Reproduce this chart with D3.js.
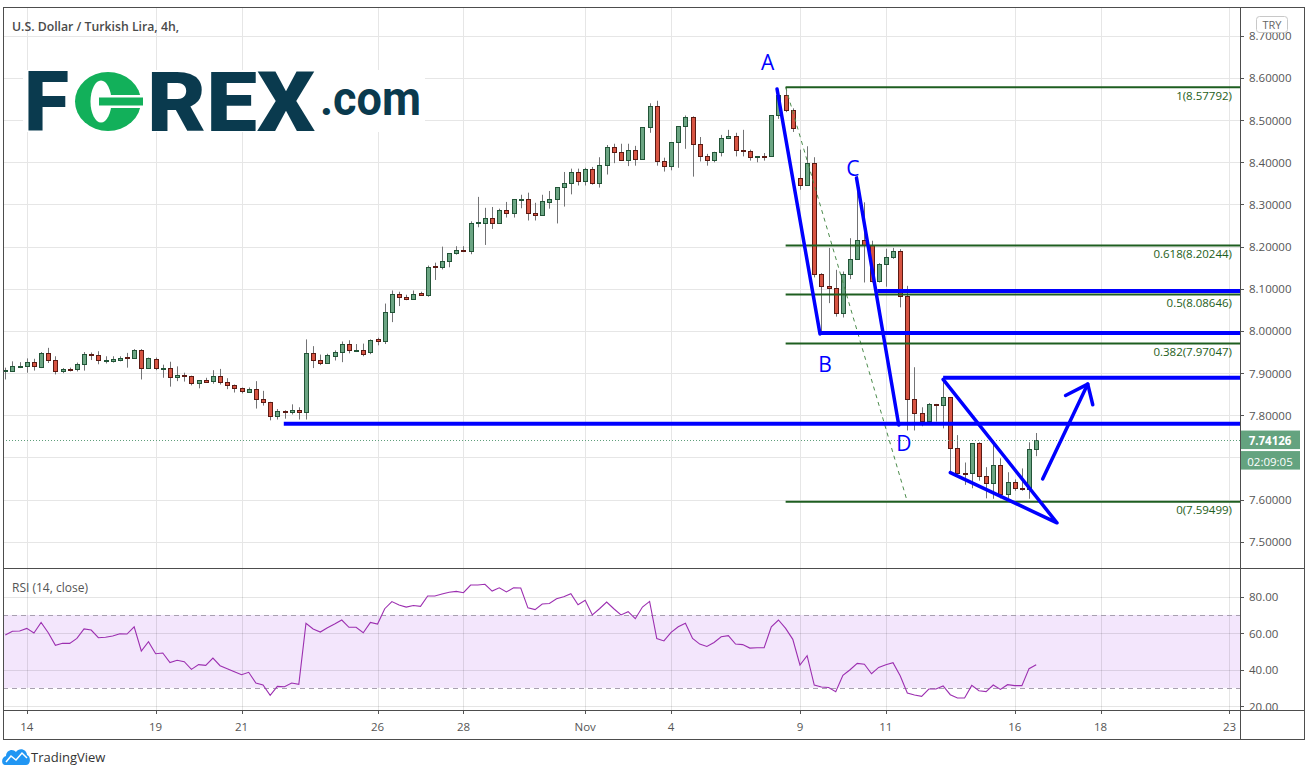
<!DOCTYPE html>
<html><head><meta charset="utf-8">
<script src="https://cdn.jsdelivr.net/npm/d3@7"></script>
<style>body{margin:0;background:#fff;}svg{display:block;}</style>
</head><body>
<svg id="c" width="1311" height="776"></svg>
<script>
// ---------- DATA (4h candles, USD/TRY, Oct 13 12:00 -> Nov 16 12:00) ----------
const opens = [7.904,7.906,7.915,7.916,7.926,7.914,7.947,7.930,7.904,7.910,7.909,7.921,7.946,7.942,7.930,7.929,7.932,7.938,7.936,7.954,
7.913,7.933,7.912,7.912,7.890,7.896,7.893,7.876,7.884,7.881,7.893,7.879,7.871,7.864,7.856,7.862,7.839,7.831,7.798,7.811,
7.808,7.812,7.808,7.947,7.932,7.925,7.941,7.950,7.970,7.955,7.956,7.950,7.980,7.976,8.046,8.088,8.081,8.076,8.089,8.085,
8.153,8.151,8.167,8.184,8.193,8.189,8.257,8.257,8.268,8.257,8.286,8.279,8.312,8.313,8.279,8.274,8.307,8.312,8.341,8.351,
8.377,8.355,8.384,8.352,8.393,8.436,8.424,8.405,8.429,8.409,8.483,8.533,8.403,8.391,8.448,8.486,8.507,8.443,8.415,8.405,
8.424,8.457,8.462,8.430,8.426,8.412,8.415,8.414,8.511,8.560,8.525,8.363,8.347,8.398,8.134,8.107,8.102,8.042,8.135,8.171,
8.216,8.204,8.119,8.159,8.175,8.189,8.082,7.838,7.805,7.786,7.827,7.824,7.843,7.722,7.663,7.663,7.734,7.655,7.639,7.681,
7.613,7.641,7.628,7.625,7.719];
const highs = [7.913,7.928,7.926,7.935,7.934,7.950,7.960,7.940,7.912,7.913,7.925,7.950,7.949,7.952,7.940,7.940,7.940,7.948,7.957,7.957,
7.937,7.937,7.920,7.927,7.916,7.901,7.894,7.883,7.889,7.907,7.910,7.888,7.873,7.866,7.866,7.881,7.858,7.832,7.815,7.812,
7.826,7.819,7.980,7.964,7.944,7.946,7.954,7.975,7.978,7.969,7.970,7.980,7.984,8.065,8.096,8.093,8.086,8.096,8.093,8.155,
8.162,8.200,8.184,8.201,8.201,8.260,8.318,8.292,8.294,8.290,8.306,8.313,8.323,8.328,8.304,8.323,8.332,8.341,8.377,8.385,
8.385,8.387,8.389,8.412,8.441,8.444,8.444,8.444,8.439,8.483,8.540,8.546,8.411,8.448,8.486,8.511,8.509,8.460,8.420,8.425,
8.465,8.477,8.470,8.477,8.430,8.415,8.422,8.511,8.566,8.578,8.528,8.430,8.438,8.412,8.137,8.197,8.145,8.141,8.220,8.368,
8.305,8.214,8.161,8.195,8.197,8.194,8.107,7.914,7.819,7.829,7.827,7.888,7.843,7.753,7.688,7.734,7.736,7.677,7.736,7.698,
7.665,7.648,7.674,7.736,7.758];
const lows = [7.885,7.905,7.912,7.901,7.906,7.912,7.924,7.897,7.900,7.904,7.904,7.906,7.931,7.921,7.923,7.925,7.928,7.913,7.935,7.885,
7.912,7.907,7.889,7.868,7.881,7.880,7.871,7.864,7.877,7.875,7.873,7.862,7.854,7.852,7.854,7.816,7.823,7.788,7.790,7.792,
7.802,7.790,7.790,7.912,7.919,7.925,7.930,7.926,7.947,7.950,7.940,7.945,7.966,7.969,8.021,8.059,8.073,8.076,8.083,8.081,
8.121,8.146,8.151,8.181,8.187,8.182,8.246,8.204,8.242,8.256,8.269,8.269,8.291,8.262,8.262,8.274,8.290,8.255,8.295,8.324,
8.345,8.345,8.347,8.340,8.371,8.398,8.405,8.391,8.392,8.409,8.470,8.392,8.378,8.381,8.387,8.432,8.366,8.402,8.392,8.400,
8.414,8.455,8.414,8.414,8.404,8.400,8.404,8.414,8.503,8.519,8.472,8.335,8.345,8.127,7.997,8.066,8.034,8.032,8.123,8.169,
8.115,8.115,8.115,8.105,8.171,8.056,7.764,7.764,7.774,7.784,7.785,7.769,7.666,7.663,7.635,7.627,7.645,7.603,7.602,7.603,
7.603,7.621,7.621,7.602,7.703];
const closes = [7.908,7.916,7.917,7.926,7.916,7.948,7.930,7.904,7.909,7.908,7.921,7.945,7.942,7.930,7.931,7.933,7.937,7.936,7.954,7.913,
7.935,7.912,7.913,7.890,7.896,7.894,7.876,7.883,7.880,7.893,7.879,7.871,7.864,7.857,7.862,7.838,7.831,7.798,7.811,7.808,
7.812,7.809,7.947,7.931,7.925,7.942,7.951,7.970,7.955,7.956,7.945,7.978,7.976,8.046,8.088,8.080,8.076,8.088,8.085,8.152,
8.151,8.167,8.184,8.193,8.189,8.257,8.258,8.268,8.257,8.286,8.279,8.313,8.314,8.279,8.274,8.308,8.313,8.341,8.351,8.377,
8.355,8.384,8.352,8.393,8.436,8.424,8.405,8.429,8.409,8.483,8.533,8.403,8.391,8.448,8.486,8.507,8.443,8.415,8.405,8.425,
8.457,8.462,8.429,8.426,8.412,8.415,8.414,8.511,8.560,8.525,8.481,8.347,8.398,8.134,8.106,8.102,8.042,8.135,8.171,8.216,
8.204,8.119,8.159,8.175,8.189,8.082,7.838,7.805,7.786,7.826,7.824,7.843,7.722,7.663,7.661,7.734,7.655,7.639,7.681,7.613,
7.641,7.627,7.625,7.719,7.741];
const rsiValues = [59.0,61.0,61.2,62.6,60.1,65.9,60.2,53.3,54.4,54.4,57.1,62.3,61.7,57.5,57.7,58.4,59.7,59.5,63.5,50.2,
55.3,48.7,49.1,43.8,45.1,44.3,40.1,42.7,42.3,46.3,42.1,40.5,38.8,37.2,38.5,32.6,31.5,25.9,30.8,30.6,
32.6,31.9,65.4,62.3,60.6,63.0,65.0,67.2,63.2,63.2,60.2,65.9,65.0,73.4,77.3,75.4,74.3,75.2,74.7,80.4,
80.4,81.5,82.4,82.9,82.2,86.4,86.4,86.8,83.1,84.9,82.6,84.9,84.8,73.9,72.9,76.0,76.3,78.9,80.0,81.6,
75.6,78.0,70.0,73.4,77.1,73.4,70.0,71.8,67.9,74.3,77.4,57.0,55.7,60.4,63.5,65.4,57.1,54.0,52.7,54.9,
58.0,58.6,54.0,53.7,51.8,52.0,52.0,63.5,67.2,62.6,56.6,42.5,47.6,31.5,30.4,30.2,27.9,36.8,39.9,43.4,
42.9,37.7,41.2,42.7,43.8,36.6,27.1,26.0,25.3,29.3,29.3,31.0,26.2,24.4,24.4,31.3,28.4,27.9,31.5,29.1,
31.7,31.2,31.2,40.5,42.7];
const dateLabels = ["14","19","21","26","28","Nov","4","9","11","16","18","23"];
const dateBars   = [3,21,33,52,64,81,93,111,123,141,153,171];
const priceTicks = [7.5,7.6,7.7,7.8,7.9,8.0,8.1,8.2,8.3,8.4,8.5,8.6,8.7];
const hiddenPriceLabels = [7.7]; // covered by the last-price / countdown boxes
const rsiTicks = [20,40,60,80];
const fibRatios = ["1","0.618","0.5","0.382","0"];
const fibValues = [8.57792,8.20244,8.08646,7.97047,7.59499];
const fibStartBar = 109, fibEndBar = 126;
const lastPrice = 7.74126;
const countdown = "02:09:05";
// hand drawings in (bar, price) coordinates
const hLevels = [{bar:38.9,p:7.780},{bar:113.8,p:7.995},{bar:121.8,p:8.095},{bar:131.0,p:7.889}];
const lineAB = [[107.8,8.574],[113.8,7.993]];
const lineCD = [[118.9,8.363],[124.8,7.777]];
const wedge = [[131.0,7.885],[146.9,7.545],[132.0,7.664]];
const arrowShaft = [[144.9,7.649],[151.2,7.874]];
const arrowHead = [[148.1,7.847],[151.2,7.874],[151.9,7.825]];
const letters = [{t:"A",bar:106.5,p:8.638},{t:"B",bar:114.5,p:7.922},{t:"C",bar:118.4,p:8.387},{t:"D",bar:125.5,p:7.734}];

// ---------- LAYOUT ----------
const L=3, R=1240, T=7, MB=568, RB=710, AB=739, RR=1304;
const svg = d3.select("#c");
const font = "'Open Sans','Noto Sans',sans-serif";
const x = d3.scaleLinear().domain([0,171]).range([5.3,5.3+171*7.159]);
const y = d3.scaleLinear().domain([7.5,8.7]).range([541.8,35.8]);
const yr = d3.scaleLinear().domain([20,80]).range([706,596.7]);
const grid = "#e6e6e6";

svg.append("rect").attr("width",1311).attr("height",776).attr("fill","#fff");

// clip paths
const defs = svg.append("defs");
defs.append("clipPath").attr("id","main").append("rect").attr("x",L).attr("y",T).attr("width",R-L).attr("height",MB-T);
defs.append("clipPath").attr("id","rsi").append("rect").attr("x",L).attr("y",MB).attr("width",R-L).attr("height",RB-MB);

// grids main
const gm = svg.append("g").attr("clip-path","url(#main)");
priceTicks.forEach(p=>{const yy=Math.round(y(p))+0.5;
  gm.append("line").attr("x1",L).attr("x2",R).attr("y1",yy).attr("y2",yy).attr("stroke",grid);});
dateBars.forEach(b=>{const xx=Math.round(x(b))+0.5;
  gm.append("line").attr("x1",xx).attr("x2",xx).attr("y1",T).attr("y2",MB).attr("stroke",grid);});

// RSI pane
const gr = svg.append("g").attr("clip-path","url(#rsi)");
gr.append("rect").attr("x",L).attr("width",R-L).attr("y",yr(70)).attr("height",yr(30)-yr(70)).attr("fill","#f3e6fc");
rsiTicks.forEach(v=>{const yy=Math.round(yr(v))+0.5;
  gr.append("line").attr("x1",L).attr("x2",R).attr("y1",yy).attr("y2",yy).attr("stroke","#000").attr("stroke-opacity",0.1);});
dateBars.forEach(b=>{const xx=Math.round(x(b))+0.5;
  gr.append("line").attr("x1",xx).attr("x2",xx).attr("y1",MB).attr("y2",RB).attr("stroke","#000").attr("stroke-opacity",0.1);});
[70,30].forEach(v=>{const yy=Math.round(yr(v))+0.5;
  gr.append("line").attr("x1",L).attr("x2",R).attr("y1",yy).attr("y2",yy).attr("stroke","#a8a0b0").attr("stroke-dasharray","5,4");});
gr.append("path").datum(rsiValues).attr("fill","none").attr("stroke","#9c2fb0").attr("stroke-width",1.1)
  .attr("d",d3.line().x((d,i)=>x(i)).y(d=>yr(d)));
svg.append("text").attr("x",12).attr("y",587).attr("dominant-baseline","central").attr("font-family",font)
  .attr("font-size",12).attr("fill","#555").text("RSI (14, close)");

// Title
svg.append("text").attr("x",12).attr("y",26).attr("dominant-baseline","central").attr("font-family",font)
  .attr("font-size",12.5).attr("font-weight",600).attr("fill","#4a4a4a").attr("textLength",167)
  .attr("lengthAdjust","spacingAndGlyphs").text("U.S. Dollar / Turkish Lira, 4h,");

// Logo
const lg = svg.append("g");
lg.append("rect").attr("x",23).attr("y",70).attr("width",402).attr("height",62).attr("fill","#fff");
const navy = "#0a3a4e", lgreen = "#12b05a";
lg.append("text").attr("x",24).attr("y",131).attr("font-family","Roboto,'DejaVu Sans',sans-serif").attr("font-weight",900)
  .attr("font-size",83).attr("fill",navy).attr("textLength",45).attr("lengthAdjust","spacingAndGlyphs").text("F");
lg.append("ellipse").attr("cx",108).attr("cy",101.5).attr("rx",33).attr("ry",29.5).attr("fill",lgreen);
lg.append("ellipse").attr("cx",101).attr("cy",101.5).attr("rx",10.5).attr("ry",21).attr("fill","#fff");
lg.append("rect").attr("x",104).attr("y",95).attr("width",42).attr("height",13).attr("fill","#fff");
lg.append("rect").attr("x",99).attr("y",97.5).attr("width",44).attr("height",8).attr("fill",lgreen);
lg.append("text").attr("x",147).attr("y",131).attr("font-family","Roboto,'DejaVu Sans',sans-serif").attr("font-weight",900)
  .attr("font-size",83).attr("fill",navy).attr("textLength",168).attr("lengthAdjust","spacingAndGlyphs").text("REX");
lg.append("text").attr("x",320).attr("y",115).attr("font-family","Roboto,'DejaVu Sans',sans-serif").attr("font-weight",700)
  .attr("font-size",48).attr("fill",navy).attr("textLength",101).attr("lengthAdjust","spacingAndGlyphs").text(".com");

// Candles
const gc = svg.append("g").attr("clip-path","url(#main)");
opens.forEach((o,i)=>{
  const c=closes[i], h=highs[i], l=lows[i], up=c>=o;
  const cx=Math.round(x(i));
  gc.append("line").attr("x1",cx+0.5).attr("x2",cx+0.5).attr("y1",y(h)).attr("y2",y(l)).attr("stroke","#737375");
  const top=y(Math.max(o,c)), bot=y(Math.min(o,c));
  const t=Math.round(top), hh=Math.max(1,Math.round(bot)-t);
  gc.append("rect").attr("x",cx-2+0.5).attr("y",t+0.5).attr("width",4).attr("height",hh)
    .attr("fill",up?"#6ba583":"#d75442").attr("stroke",up?"#225437":"#5b1a13");
});

// current price dotted line
svg.append("line").attr("x1",L).attr("x2",R).attr("y1",Math.round(y(lastPrice))+0.5).attr("y2",Math.round(y(lastPrice))+0.5)
  .attr("stroke","#5f9e7b").attr("stroke-dasharray","1,2");

// Fibonacci
const gf = svg.append("g").attr("clip-path","url(#main)");
const fibGreen="#1e5e20";
gf.append("line").attr("x1",x(fibStartBar)).attr("y1",y(fibValues[0])).attr("x2",x(fibEndBar)).attr("y2",y(fibValues[4]))
  .attr("stroke","#4c8c4c").attr("stroke-dasharray","4,4").attr("stroke-width",1);
fibValues.forEach((v,k)=>{
  const yy=y(v);
  gf.append("line").attr("x1",x(fibStartBar)).attr("x2",R).attr("y1",yy).attr("y2",yy).attr("stroke",fibGreen).attr("stroke-width",2);
  gf.append("text").attr("x",1232).attr("y",yy+8).attr("text-anchor","end").attr("dominant-baseline","central")
    .attr("font-family",font).attr("font-size",11.5).attr("fill",fibGreen).text(fibRatios[k]+"("+v.toFixed(5)+")");
});

// Hand drawings (blue)
const gb = svg.append("g").attr("clip-path","url(#main)");
const blue="#0000ff";
const ln = d3.line().x(d=>x(d[0])).y(d=>y(d[1]));
hLevels.forEach(h=>{gb.append("line").attr("x1",x(h.bar)).attr("x2",R).attr("y1",y(h.p)).attr("y2",y(h.p))
  .attr("stroke",blue).attr("stroke-width",4);});
[lineAB,lineCD,wedge,arrowShaft,arrowHead].forEach(pts=>{
  gb.append("path").attr("d",ln(pts)).attr("fill","none").attr("stroke",blue).attr("stroke-width",3.5)
    .attr("stroke-linejoin","round").attr("stroke-linecap","round");});
letters.forEach(d=>{gb.append("text").attr("x",x(d.bar)).attr("y",y(d.p)).attr("text-anchor","middle")
  .attr("dominant-baseline","central").attr("font-family",font).attr("font-size",21).attr("fill",blue).text(d.t);});

// Right price axis
const ga = svg.append("g");
priceTicks.forEach(p=>{const yy=Math.round(y(p))+0.5;
  ga.append("line").attr("x1",R).attr("x2",R+4).attr("y1",yy).attr("y2",yy).attr("stroke","#555");
  if (hiddenPriceLabels.includes(p)) return;
  ga.append("text").attr("x",1249).attr("y",y(p)).attr("dominant-baseline","central").attr("font-family",font)
    .attr("font-size",11.5).attr("fill","#555").text(p.toFixed(5));});
rsiTicks.forEach(v=>{const yy=Math.round(yr(v))+0.5;
  ga.append("line").attr("x1",R).attr("x2",R+4).attr("y1",yy).attr("y2",yy).attr("stroke","#555");
  ga.append("text").attr("x",1249).attr("y",yr(v)).attr("dominant-baseline","central").attr("font-family",font)
    .attr("font-size",11.5).attr("fill","#555").text(v.toFixed(2));});
// TRY box
ga.append("rect").attr("x",1256.5).attr("y",16.5).attr("width",31).attr("height",16).attr("rx",3)
  .attr("fill","#fff").attr("stroke","#c8c8c8");
ga.append("text").attr("x",1272).attr("y",24.5).attr("text-anchor","middle").attr("dominant-baseline","central")
  .attr("font-family",font).attr("font-size",11).attr("fill","#666").text("TRY");
// last price boxes
const ly=y(lastPrice);
ga.append("rect").attr("x",R).attr("y",ly-9.5).attr("width",60).attr("height",18.5).attr("fill","#64a37f");
ga.append("text").attr("x",1270).attr("y",ly).attr("text-anchor","middle").attr("dominant-baseline","central")
  .attr("font-family",font).attr("font-size",11.5).attr("font-weight",700).attr("fill","#fff").text(lastPrice.toFixed(5));
ga.append("rect").attr("x",R).attr("y",ly+11).attr("width",60).attr("height",18.5).attr("fill","#64a37f");
ga.append("text").attr("x",1270).attr("y",ly+21).attr("text-anchor","middle").attr("dominant-baseline","central")
  .attr("font-family",font).attr("font-size",11.5).attr("fill","#fff").text(countdown);

// Time axis
dateBars.forEach((b,k)=>{const xx=Math.round(x(b))+0.5;
  ga.append("line").attr("x1",xx).attr("x2",xx).attr("y1",RB).attr("y2",RB+4).attr("stroke","#555");
  ga.append("text").attr("x",x(b)).attr("y",726).attr("text-anchor","middle").attr("dominant-baseline","central")
    .attr("font-family",font).attr("font-size",11.5).attr("fill","#555").text(dateLabels[k]);});

// Frame
const fc="#4d4d4d";
svg.append("rect").attr("x",L+0.5).attr("y",T+0.5).attr("width",RR-L).attr("height",AB-T).attr("fill","none").attr("stroke",fc);
[MB,RB].forEach(v=>svg.append("line").attr("x1",L).attr("x2",RR).attr("y1",v+0.5).attr("y2",v+0.5).attr("stroke",fc));
svg.append("line").attr("x1",R+0.5).attr("x2",R+0.5).attr("y1",T).attr("y2",AB).attr("stroke",fc);

// Footer TradingView
const tv = svg.append("g");
tv.append("path").attr("d","M5,765 C1,765 1,757 6,756 C6,750 13,748 16,752 C19,747 27,749 27,755 C31,756 31,765 26,765 Z").attr("fill","#2196f3");
tv.append("path").attr("d","M6,762 L11,756 L16,760 L22,753 L27,758").attr("fill","none").attr("stroke","#fff").attr("stroke-width",1.5);
tv.append("text").attr("x",31).attr("y",757).attr("dominant-baseline","central").attr("font-family",font)
  .attr("font-size",13).attr("fill","#333").text("TradingView");
</script>
</body></html>
